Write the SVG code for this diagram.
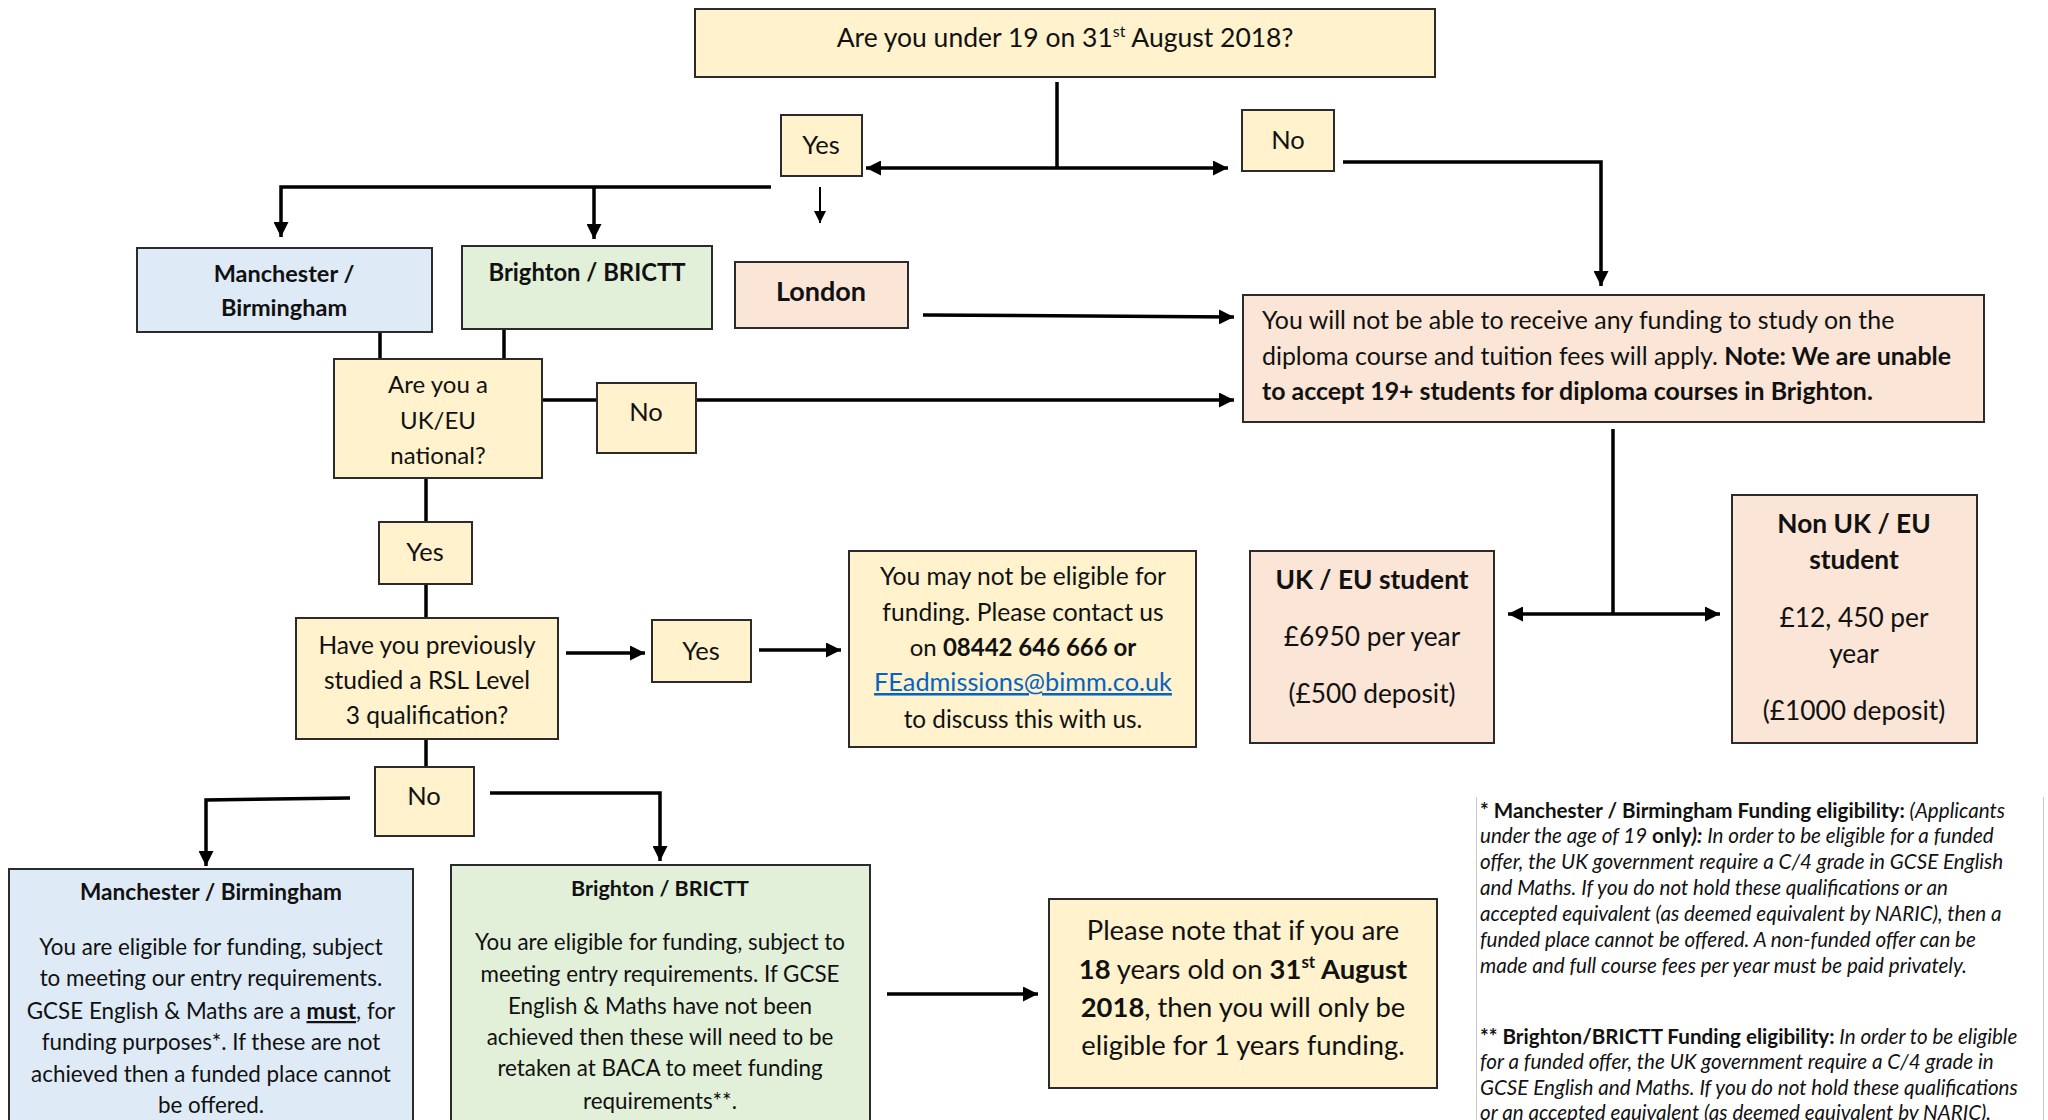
<svg xmlns="http://www.w3.org/2000/svg" width="2048" height="1120" viewBox="0 0 2048 1120">
<style>
.box{stroke:#2b2b2b;stroke-width:2}
.y{fill:#FFF2CC}
.b{fill:#DEEBF7}
.g{fill:#E2F0D9}
.p{fill:#FBE5D6}
text{font-family:Lato,"Liberation Sans",sans-serif;fill:#111}
.c{text-anchor:middle}
.bold{font-weight:bold}
.con{fill:none;stroke:#000;stroke-width:3.5}
.thin{fill:none;stroke:#000;stroke-width:2}
.fn{font-size:20.6px;font-style:italic}
.fn .bd{font-weight:bold;font-style:normal}
</style>
<defs>
<marker id="ah" viewBox="0 0 10 10" refX="10" refY="5" markerWidth="15" markerHeight="15" markerUnits="userSpaceOnUse" orient="auto">
<path d="M0,0 L10,5 L0,10 z" fill="#000"/>
</marker>
<marker id="ahs" viewBox="0 0 10 10" refX="10" refY="5" markerWidth="12" markerHeight="12" markerUnits="userSpaceOnUse" orient="auto">
<path d="M0,0 L10,5 L0,10 z" fill="#000"/>
</marker>
</defs>

<g id="connectors">
<path class="con" d="M1057,82 V168"/>
<path class="con" d="M1057,168 H866" marker-end="url(#ah)"/>
<path class="con" d="M1057,168 H1228" marker-end="url(#ah)"/>
<path class="con" d="M1343,162 H1601 V286" marker-end="url(#ah)"/>
<path class="con" d="M771,187 H281 V237" marker-end="url(#ah)"/>
<path class="con" d="M594,187 V239" marker-end="url(#ah)"/>
<path class="thin" d="M820,187 V223" marker-end="url(#ahs)"/>
<path class="con" d="M923,315 L1234,317" marker-end="url(#ah)"/>
<path class="con" d="M380,332 V359"/>
<path class="con" d="M504,329 V359"/>
<path class="con" d="M542,400 H597"/>
<path class="con" d="M696,400 H1234" marker-end="url(#ah)"/>
<path class="con" d="M426,478 V522"/>
<path class="con" d="M426,584 V618"/>
<path class="con" d="M566,653 H645" marker-end="url(#ah)"/>
<path class="con" d="M759,650 H841" marker-end="url(#ah)"/>
<path class="con" d="M1613,429 V614"/>
<path class="con" d="M1613,614 H1508" marker-end="url(#ah)"/>
<path class="con" d="M1613,614 H1720" marker-end="url(#ah)"/>
<path class="con" d="M426,739 V767"/>
<path class="con" d="M350,798 L206,800 V866" marker-end="url(#ah)"/>
<path class="con" d="M490,793 H660 V861" marker-end="url(#ah)"/>
<path class="con" d="M887,994 H1038" marker-end="url(#ah)"/>
</g>

<g id="q-under19">
<rect class="box y" x="695" y="9" width="740" height="68"/>
<text class="c" x="1065" y="47" font-size="26.5">Are you under 19 on 31<tspan font-size="16" dy="-10">st</tspan><tspan dy="10"> August 2018?</tspan></text>
</g>

<g id="yes1">
<rect class="box y" x="781" y="115" width="81" height="61"/>
<text class="c" x="821" y="154" font-size="25.5">Yes</text>
</g>

<g id="no1">
<rect class="box y" x="1242" y="110" width="92" height="61"/>
<text class="c" x="1288" y="149" font-size="25.5">No</text>
</g>

<g id="manchester-top">
<rect class="box b" x="137" y="248" width="295" height="84"/>
<text class="c bold" x="284" y="282" font-size="23.5">Manchester /</text>
<text class="c bold" x="284" y="316" font-size="23.5">Birmingham</text>
</g>

<g id="brighton-top">
<rect class="box g" x="462" y="246" width="250" height="83"/>
<text class="c bold" x="587" y="281" font-size="23.8">Brighton / BRICTT</text>
</g>

<g id="london">
<rect class="box p" x="735" y="262" width="173" height="66"/>
<text class="c bold" x="821" y="301" font-size="27">London</text>
</g>

<g id="no-funding">
<rect class="box p" x="1243" y="295" width="741" height="127"/>
<text x="1262" y="329" font-size="24.9">You will not be able to receive any funding to study on the</text>
<text x="1262" y="365" font-size="24.9">diploma course and tuition fees will apply. <tspan class="bold">Note: We are unable</tspan></text>
<text class="bold" x="1262" y="400" font-size="24.9">to accept 19+ students for diploma courses in Brighton.</text>
</g>

<g id="q-national">
<rect class="box y" x="334" y="359" width="208" height="119"/>
<text class="c" x="438" y="393" font-size="24">Are you a</text>
<text class="c" x="438" y="429" font-size="24">UK/EU</text>
<text class="c" x="438" y="464" font-size="24">national?</text>
</g>

<g id="no2">
<rect class="box y" x="597" y="383" width="99" height="70"/>
<text class="c" x="646" y="421" font-size="25.5">No</text>
</g>

<g id="yes2">
<rect class="box y" x="379" y="522" width="93" height="62"/>
<text class="c" x="425" y="561" font-size="25.5">Yes</text>
</g>

<g id="q-rsl">
<rect class="box y" x="296" y="618" width="262" height="121"/>
<text class="c" x="427" y="654" font-size="24.5">Have you previously</text>
<text class="c" x="427" y="689" font-size="24.5">studied a RSL Level</text>
<text class="c" x="427" y="724" font-size="24.5">3 qualification?</text>
</g>

<g id="yes3">
<rect class="box y" x="652" y="620" width="99" height="62"/>
<text class="c" x="701" y="660" font-size="25.5">Yes</text>
</g>

<g id="may-not-eligible">
<rect class="box y" x="849" y="551" width="347" height="196"/>
<text class="c" x="1023" y="585" font-size="24.6">You may not be eligible for</text>
<text class="c" x="1023" y="621" font-size="24.6">funding. Please contact us</text>
<text class="c" x="1023" y="656" font-size="24">on <tspan class="bold">08442 646 666 or</tspan></text>
<text class="c" x="1023" y="691" font-size="25.3" style="fill:#0563C1" text-decoration="underline">FEadmissions@bimm.co.uk</text>
<text class="c" x="1023" y="728" font-size="24.3">to discuss this with us.</text>
</g>

<g id="uk-eu-student">
<rect class="box p" x="1250" y="551" width="244" height="192"/>
<text class="c bold" x="1372" y="589" font-size="26.3">UK / EU student</text>
<text class="c" x="1372" y="646" font-size="26.3">£6950 per year</text>
<text class="c" x="1372" y="703" font-size="26.3">(£500 deposit)</text>
</g>

<g id="non-uk-eu-student">
<rect class="box p" x="1732" y="495" width="245" height="248"/>
<text class="c bold" x="1854" y="533" font-size="26.3">Non UK / EU</text>
<text class="c bold" x="1854" y="569" font-size="26.3">student</text>
<text class="c" x="1854" y="627" font-size="26.3">£12, 450 per</text>
<text class="c" x="1854" y="663" font-size="26.3">year</text>
<text class="c" x="1854" y="720" font-size="26.3">(£1000 deposit)</text>
</g>

<g id="no3">
<rect class="box y" x="375" y="767" width="99" height="69"/>
<text class="c" x="424" y="805" font-size="25.5">No</text>
</g>

<g id="manchester-bottom">
<rect class="box b" x="9" y="869" width="404" height="270"/>
<text class="c bold" x="211" y="900" font-size="22.6">Manchester / Birmingham</text>
<text class="c" x="211" y="955" font-size="22.4">You are eligible for funding, subject</text>
<text class="c" x="211" y="986" font-size="22.4">to meeting our entry requirements.</text>
<text class="c" x="211" y="1019" font-size="22.4">GCSE English &amp; Maths are a <tspan class="bold" text-decoration="underline">must</tspan>, for</text>
<text class="c" x="211" y="1050" font-size="22.4">funding purposes*. If these are not</text>
<text class="c" x="211" y="1082" font-size="22.4">achieved then a funded place cannot</text>
<text class="c" x="211" y="1113" font-size="22.4">be offered.</text>
</g>

<g id="brighton-bottom">
<rect class="box g" x="451" y="865" width="419" height="274"/>
<text class="c bold" x="660" y="896" font-size="21.5">Brighton / BRICTT</text>
<text class="c" x="660" y="950" font-size="22.4">You are eligible for funding, subject to</text>
<text class="c" x="660" y="982" font-size="22.4">meeting entry requirements. If GCSE</text>
<text class="c" x="660" y="1014" font-size="22.4">English &amp; Maths have not been</text>
<text class="c" x="660" y="1045" font-size="22.4">achieved then these will need to be</text>
<text class="c" x="660" y="1076" font-size="22.4">retaken at BACA to meet funding</text>
<text class="c" x="660" y="1109" font-size="22.4">requirements**.</text>
</g>

<g id="please-note">
<rect class="box y" x="1049" y="899" width="388" height="189"/>
<text class="c" x="1243" y="940" font-size="27.4">Please note that if you are</text>
<text class="c" x="1243" y="979" font-size="27.4"><tspan class="bold">18</tspan> years old on <tspan class="bold">31</tspan><tspan class="bold" font-size="17" dy="-11">st</tspan><tspan class="bold" dy="11"> August</tspan></text>
<text class="c" x="1243" y="1017" font-size="27.4"><tspan class="bold">2018</tspan>, then you will only be</text>
<text class="c" x="1243" y="1055" font-size="27.4">eligible for 1 years funding.</text>
</g>

<g id="footnotes">
<path d="M1476.5,797 V1120 M2043.5,797 V1120" fill="none" stroke="#c8c8c8" stroke-width="1"/>
<text class="fn" x="1480" y="818"><tspan class="bd">* Manchester / Birmingham Funding eligibility:</tspan> (Applicants</text>
<text class="fn" x="1480" y="843">under the age of 19 <tspan class="bd">only</tspan><tspan font-weight="bold">):</tspan> In order to be eligible for a funded</text>
<text class="fn" x="1480" y="869">offer, the UK government require a C/4 grade in GCSE English</text>
<text class="fn" x="1480" y="895">and Maths. If you do not hold these qualifications or an</text>
<text class="fn" x="1480" y="921">accepted equivalent (as deemed equivalent by NARIC), then a</text>
<text class="fn" x="1480" y="947">funded place cannot be offered. A non-funded offer can be</text>
<text class="fn" x="1480" y="973">made and full course fees per year must be paid privately.</text>
<text class="fn" x="1480" y="1044"><tspan class="bd">** Brighton/BRICTT Funding eligibility:</tspan> In order to be eligible</text>
<text class="fn" x="1480" y="1069">for a funded offer, the UK government require a C/4 grade in</text>
<text class="fn" x="1480" y="1095">GCSE English and Maths. If you do not hold these qualifications</text>
<text class="fn" x="1480" y="1120">or an accepted equivalent (as deemed equivalent by NARIC).</text>
</g>
</svg>
